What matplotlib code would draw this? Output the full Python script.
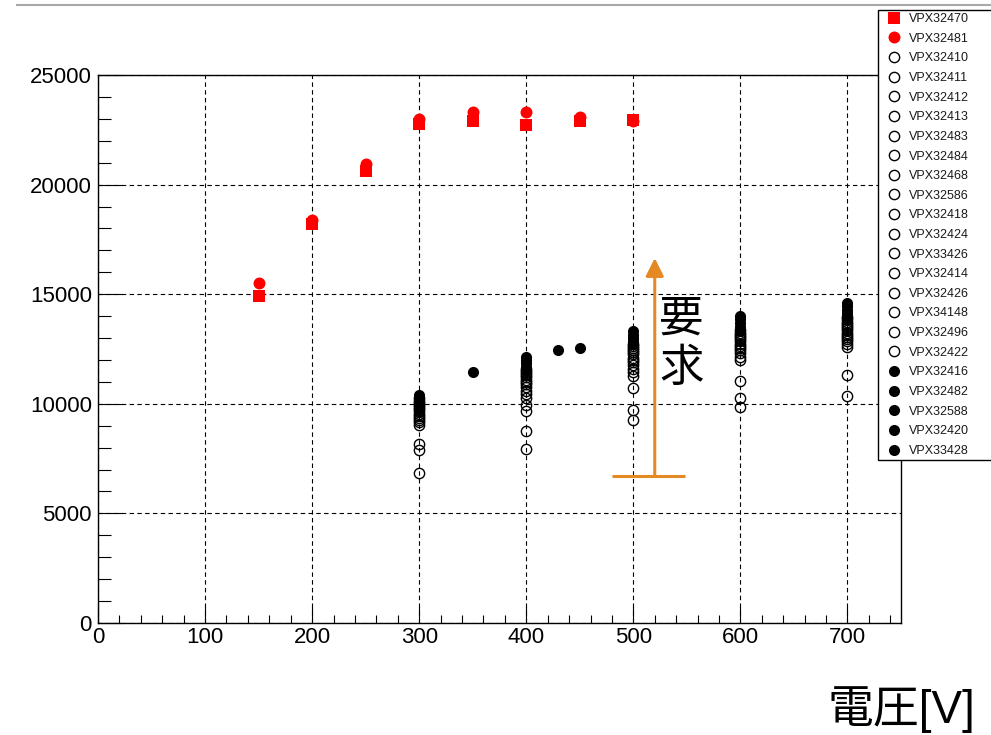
import numpy as np
import matplotlib
matplotlib.use("Agg")
import matplotlib.pyplot as plt
from matplotlib.lines import Line2D
from matplotlib.ticker import MultipleLocator

plt.rcParams['font.family'] = ['Liberation Sans', 'Noto Sans CJK JP', 'DejaVu Sans']

nan = np.nan

# red series (low voltage scan)
red_v = [150, 200, 250, 300, 350, 400, 450, 500]
vpx32470 = [14900, 18200, 20600, 22750, 22900, 22700, 22900, 22950]
vpx32481 = [15500, 18400, 20950, 23000, 23300, 23300, 23100, 22900]

# open-circle sensors, one value per sensor at each voltage
open_names = ["VPX32410", "VPX32411", "VPX32412", "VPX32413", "VPX32483", "VPX32484",
              "VPX32468", "VPX32586", "VPX32418", "VPX32424", "VPX33426", "VPX32414",
              "VPX32426", "VPX34148", "VPX32496", "VPX32422"]
open_v = [300, 400, 500, 600, 700]
open_at_300 = [6850, 7900, 8150, 9050, 9150, 9250, 9350, 9450, 9550, 9650,
               9750, 9850, 9950, 10050, 10150, 10250]
open_at_400 = [7950, 8750, 9650, 9950, 10250, 10450, 10600, 10750, 10900, 11000,
               11100, 11200, 11300, 11400, 11500, 11600]
open_at_500 = [9250, 9700, 10700, 11250, 11450, 11600, 11750, 11900, 12000, 12100,
               12250, 12350, 12450, 12550, 12650, 12750]
open_at_600 = [9850, 10250, 11050, 12000, 12150, 12300, 12450, 12550, 12650, 12750,
               12850, 12950, 13050, 13150, 13250, 13350]
open_at_700 = [10350, 11300, 12600, 12750, 12850, 12950, 13050, 13150, 13250, 13350,
               13450, 13550, 13650, 13750, 13850, 13950]

# filled-circle sensors
filled_names = ["VPX32416", "VPX32482", "VPX32588", "VPX32420", "VPX33428"]
filled_v = [300, 350, 400, 430, 450, 500, 600, 700]
filled_at_300 = [10400, 10250, 10100, 9950, 9800]
filled_at_350 = [11450, nan, nan, nan, nan]
filled_at_400 = [12150, 12000, 11850, 11700, 11550]
filled_at_430 = [nan, 12450, nan, nan, nan]
filled_at_450 = [nan, nan, 12550, nan, nan]
filled_at_500 = [13300, 13150, 13000, 12850, 12750]
filled_at_600 = [14000, 13850, 13700, 13500, 13300]
filled_at_700 = [14600, 14450, 14300, 14150, 14000]

# requirement arrow
req_x = 520
req_lo = 6700
req_hi = 16650

orange = '#E58A22'

fig = plt.figure(figsize=(9.91, 7.35), dpi=100)
ax = fig.add_axes([98/991, 1-623/735, 803/991, 548/735])

handles = []
h, = ax.plot(red_v, vpx32470, 's', color='red', ms=9.2, mew=0, label='VPX32470', zorder=3)
handles.append(h)
h, = ax.plot(red_v, vpx32481, 'o', color='red', ms=8.6, mew=0, label='VPX32481', zorder=3)
handles.append(h)

open_cols = [open_at_300, open_at_400, open_at_500, open_at_600, open_at_700]
for i, name in enumerate(open_names):
    ys = [col[i] for col in open_cols]
    h, = ax.plot(open_v, ys, 'o', mfc='none', mec='black', ms=7.4, mew=1.0,
                 label=name, zorder=4)
    handles.append(h)

filled_cols = [filled_at_300, filled_at_350, filled_at_400, filled_at_430,
               filled_at_450, filled_at_500, filled_at_600, filled_at_700]
for i, name in enumerate(filled_names):
    ys = [col[i] for col in filled_cols]
    h, = ax.plot(filled_v, ys, 'o', color='black', ms=8.0, mew=0, label=name, zorder=5)
    handles.append(h)

# requirement marker
ax.plot([480, 548], [req_lo, req_lo], color=orange, lw=2.2, solid_capstyle='butt', zorder=6)
ax.annotate('', xy=(req_x, req_hi), xytext=(req_x, req_lo),
            arrowprops=dict(arrowstyle='-|>,head_length=0.4,head_width=0.2',
                            color=orange, lw=2.2, mutation_scale=27,
                            shrinkA=0, shrinkB=0), zorder=6)
ax.text(545, 12750, '要\n求', fontsize=32, ha='center', va='center',
        linespacing=1.1, family=['Noto Sans CJK JP'], zorder=6)

ax.set_xlim(0, 750)
ax.set_ylim(0, 25000)
ax.xaxis.set_major_locator(MultipleLocator(100))
ax.xaxis.set_minor_locator(MultipleLocator(20))
ax.yaxis.set_major_locator(MultipleLocator(5000))
ax.yaxis.set_minor_locator(MultipleLocator(1000))

ax.grid(True, which='major', color='black', lw=0.8, ls=(0, (4, 3)), zorder=1)
ax.set_axisbelow(True)

ax.tick_params(axis='both', which='both', direction='in', top=False, right=False,
               labelsize=16, width=0.8, colors='black')
ax.tick_params(axis='x', which='major', length=11.5, pad=3)
ax.tick_params(axis='x', which='minor', length=5.8)
ax.tick_params(axis='y', which='major', length=17, pad=4.5)
ax.tick_params(axis='y', which='minor', length=9)
for s in ax.spines.values():
    s.set_linewidth(1.0)

leg = fig.legend(handles=handles, loc='upper left',
                 bbox_to_anchor=(878/991, 0, 0.2, 1-10/735), mode='expand',
                 borderaxespad=0, fontsize=9, numpoints=1, labelspacing=0.61,
                 handlelength=2.0, handletextpad=0.2, borderpad=0.25,
                 fancybox=False, edgecolor='black', framealpha=1)
leg.get_frame().set_linewidth(1.0)
for t in leg.get_texts():
    t.set_color('#1a1a1a')

fig.text(901/991, 1-710/735, '電圧[V]', fontsize=33, ha='center', va='center')

fig.add_artist(Line2D([17/991, 1], [1-5/735, 1-5/735], transform=fig.transFigure,
                      color='#a8a8a8', lw=1.5))

fig.savefig('out.png', dpi=100)
